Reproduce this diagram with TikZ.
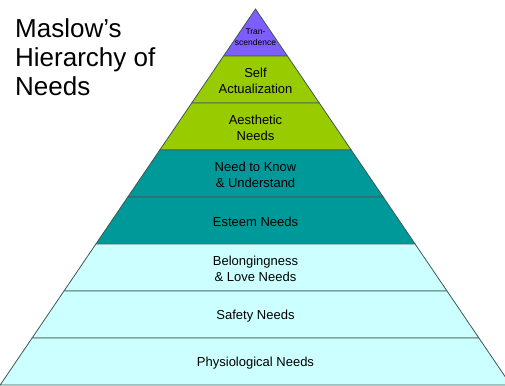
\documentclass[tikz,border=0pt]{standalone}
\usepackage{fontspec}
\setmainfont{Liberation Sans}

\definecolor{topColor}{RGB}{126,94,255}
\definecolor{growthColor}{RGB}{153,204,0}
\definecolor{esteemColor}{RGB}{0,153,153}
\definecolor{basicColor}{RGB}{204,255,255}
\definecolor{edgeColor}{RGB}{62,88,88}

\begin{document}
\begin{tikzpicture}[x=1pt,y=1pt,
    layer/.style={draw=edgeColor,line width=0.8pt},
    need/.style={font=\fontsize{13}{16}\selectfont,align=center,inner sep=0pt}]
  \clip (0,0) rectangle (505,385);
  % Pyramid, top to bottom
  \draw[layer,fill=topColor] (255.5,376) -- (287.4,329) -- (223.6,329) -- cycle;
  \draw[layer,fill=growthColor] (223.6,329) -- (287.4,329) -- (319.3,282) -- (191.7,282) -- cycle;
  \draw[layer,fill=growthColor] (191.7,282) -- (319.3,282) -- (351.2,235) -- (159.8,235) -- cycle;
  \draw[layer,fill=esteemColor] (159.8,235) -- (351.2,235) -- (383.2,188) -- (127.8,188) -- cycle;
  \draw[layer,fill=esteemColor] (127.8,188) -- (383.2,188) -- (415.1,141) -- (95.9,141) -- cycle;
  \draw[layer,fill=basicColor] (95.9,141) -- (415.1,141) -- (447.0,94) -- (64.0,94) -- cycle;
  \draw[layer,fill=basicColor] (64.0,94) -- (447.0,94) -- (478.9,47) -- (32.1,47) -- cycle;
  \draw[layer,fill=basicColor] (32.1,47) -- (478.9,47) -- (510.8,0) -- (0.2,0) -- cycle;
  % Labels
  \node[need,font=\fontsize{8.5}{11}\selectfont] (tran) at (255.5,347.5) {Tran-\\scendence};
  \node[need] (self) at (255.5,304.5) {Self\\Actualization};
  \node[need] (aesthetic) at (255.5,257.5) {Aesthetic\\Needs};
  \node[need] (know) at (255.5,210.5) {Need to Know\\\& Understand};
  \node[need] (esteem) at (255.5,163) {Esteem Needs};
  \node[need] (love) at (255.5,116.5) {Belongingness\\\& Love Needs};
  \node[need] (safety) at (255.5,69) {Safety Needs};
  \node[need] (body) at (255.5,22) {Physiological Needs};
  % Title
  \node[anchor=north west,align=left,inner sep=0pt,font=\fontsize{26}{29}\selectfont]
    (title) at (15,366.5) {Maslow’s\\Hierarchy of\\Needs};
\end{tikzpicture}
\end{document}
